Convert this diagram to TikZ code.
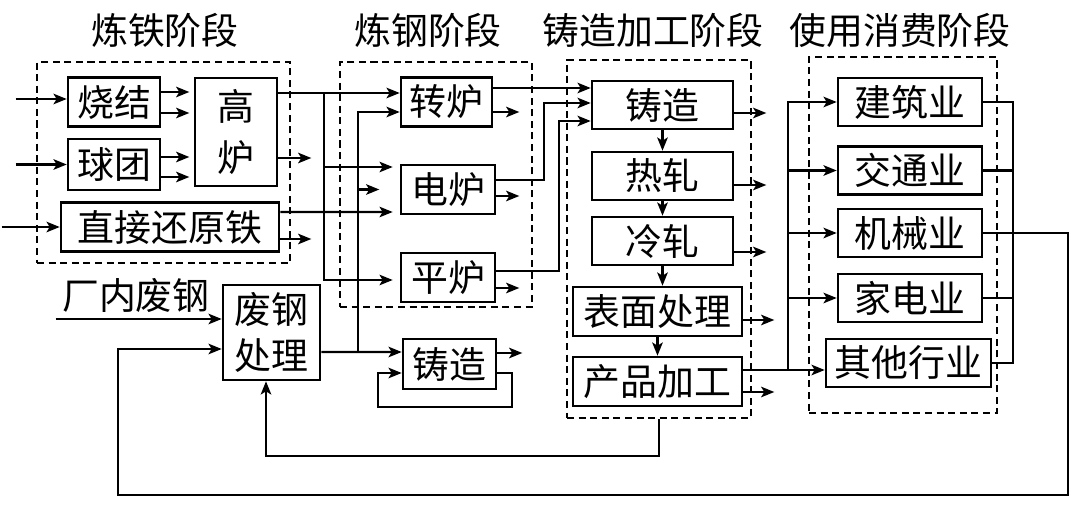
\documentclass[tikz,border=0pt]{standalone}
\usepackage{fontspec}
\setmainfont{Noto Sans CJK SC}
\usetikzlibrary{arrows.meta,calc}
\begin{document}
\begin{tikzpicture}
  [
    x=0.02cm, y=-0.02cm,
    font=\fontsize{21}{26}\selectfont,
    box/.style={rectangle,draw,line width=1.5pt,inner sep=0pt,minimum height=0.98cm},
    stage/.style={rectangle,draw,line width=1.2pt,dash pattern=on 4pt off 2.6pt,inner sep=0pt},
    flow/.style={line width=1.2pt},
    arr/.style={flow,-{Stealth[length=7.5pt,width=6pt,inset=1.8pt]}},
  ]
  \useasboundingbox (0,0) rectangle (1080,507);

  % stages
  \node[stage,minimum width=5.06cm,minimum height=4.02cm] (ironbox)  at (163.5,162.5) {};
  \node[stage,minimum width=3.84cm,minimum height=4.9cm]  (steelbox) at (436,184.5)   {};
  \node[stage,minimum width=3.68cm,minimum height=7.16cm] (procbox)  at (659,239)     {};
  \node[stage,minimum width=3.76cm,minimum height=7.12cm] (usebox)   at (903,235)     {};
  \node (tiron)  at (165,30) {炼铁阶段};
  \node (tsteel) at (428,30) {炼钢阶段};
  \node (tproc)  at (653,30) {铸造加工阶段};
  \node (tuse)   at (900,30) {使用消费阶段};
  \node (tscrap) at (136,296) {厂内废钢};

  % boxes
  \node[box,minimum width=1.84cm] (sinter) at (114,102)   {烧结};
  \node[box,minimum width=1.84cm,minimum height=1.02cm] (pellet) at (114,164.5) {球团};
  \node[box,minimum width=1.64cm,minimum height=2.16cm,align=center,
        font=\fontsize{21}{29.5}\selectfont] (bf) at (236,132) {高\\炉};
  \node[box,minimum width=4.36cm] (dri)    at (170,227)   {直接还原铁};
  \node[box,minimum width=1.82cm] (bof)    at (446.5,102) {转炉};
  \node[box,minimum width=1.88cm] (eaf)    at (448,189.5) {电炉};
  \node[box,minimum width=1.88cm] (ohf)    at (448,277.5) {平炉};
  \node[box,minimum width=1.94cm,minimum height=1.9cm,align=center,
        font=\fontsize{21}{26.5}\selectfont] (scrap) at (271.5,332.5) {废钢\\处理};
  \node[box,minimum width=1.86cm,minimum height=1cm] (cast2) at (449.5,364) {铸造};
  \node[box,minimum width=2.82cm,minimum height=0.96cm] (cast) at (662.5,105) {铸造};
  \node[box,minimum width=2.82cm,minimum height=0.96cm] (hot)  at (662.5,176) {热轧};
  \node[box,minimum width=2.82cm,minimum height=0.96cm] (cold) at (662.5,241) {冷轧};
  \node[box,minimum width=3.38cm] (surf) at (657.5,311.5) {表面处理};
  \node[box,minimum width=3.38cm] (prod) at (657.5,381.5) {产品加工};
  \node[box,minimum width=2.88cm,minimum height=0.96cm] (build) at (910,102)   {建筑业};
  \node[box,minimum width=2.88cm,minimum height=0.96cm] (trans) at (910,170.5) {交通业};
  \node[box,minimum width=2.88cm,minimum height=0.96cm] (mach)  at (910,233)   {机械业};
  \node[box,minimum width=2.88cm,minimum height=0.96cm] (appl)  at (910,298)   {家电业};
  \node[box,minimum width=3.3cm,minimum height=0.96cm]  (other) at (908.5,363) {其他行业};

  % inputs and short outputs
  \draw[arr] ($(sinter.west)+(-51,-3)$) -- ($(sinter.west)+(0,-3)$);
  \draw[arr] ($(pellet.west)+(-51,0)$) -- (pellet.west);
  \draw[arr] ($(dri.west)+(-58,0)$) -- (dri.west);
  \foreach \n/\dy/\len in {sinter/-10/28, sinter/11/28, pellet/-7.5/28, pellet/12.5/28,
      bf/26/33, dri/12/31, bof/10/26, eaf/6.5/23, ohf/10.5/23, cast2/-11/25,
      cast/8/32, hot/9/32, cold/11/32, surf/8.5/31, prod/10.5/31}
    \draw[arr] ($(\n.east)+(0,\dy)$) -- ++(\len,0);

  % iron to steel
  \coordinate (jiron) at ($(bf.east)+(46,-39)$);
  \draw[arr] ($(bf.east)+(0,-39)$) -- ($(bof.west)+(0,-9)$);
  \draw[arr,shorten >=4pt] (jiron) |- ($(eaf.west)+(0,-22.5)$);
  \draw[arr,shorten >=4pt] (jiron) |- ($(ohf.west)+(0,2.5)$);
  \draw[arr,shorten >=4pt] ($(dri.east)+(0,-15)$) -- ($(eaf.west)+(0,22.5)$);

  % scrap
  \coordinate (jscrap) at ($(scrap.east)+(37,19.5)$);
  \draw[arr] ($(scrap.west)+(-166,-13.5)$) -- ($(scrap.west)+(0,-13.5)$);
  \draw[arr] ($(scrap.east)+(0,19.5)$) -- ($(cast2.west)+(0,-12)$);
  \draw[arr] (jscrap) |- ($(bof.west)+(0,10)$);
  \draw[arr] (jscrap |- eaf.west) -- ++(21,0);
  \draw[arr] ($(cast2.east)+(0,9)$) -- ++(15,0) -- ++(0,34) -- ++(-134,0) -- ++(0,-34)
    -- ($(cast2.west)+(0,9)$);

  % steel to casting
  \draw[arr] ($(bof.east)+(0,-14)$) -- ($(cast.west)+(0,-17)$);
  \draw[arr] ($(eaf.east)+(0,-9.5)$) -- ++(48,0) |- ($(cast.west)+(0,-2)$);
  \draw[arr] ($(ohf.east)+(0,-6.5)$) -- ++(63,0) |- ($(cast.west)+(0,16)$);
  \foreach \a/\b in {cast/hot,hot/cold,cold/surf,surf/prod}
    \draw[arr] (\a.south) -- (\a.south |- \b.north);

  % products to users
  \coordinate (juse) at ($(prod.east)+(45,-11.5)$);
  \draw[arr] ($(prod.east)+(0,-11.5)$) -- ($(other.west)+(0,7)$);
  \foreach \n in {build,trans,mach,appl}
    \draw[arr] (juse) |- (\n.west);

  % back to scrap
  \coordinate (jback) at ($(build.east)+(30,0)$);
  \draw[flow] (build.east) -- (jback) |- (other.east);
  \draw[flow] (trans.east) -- (jback |- trans.east);
  \draw[flow] (appl.east) -- (jback |- appl.east);
  \draw[arr] (mach.east) -- ++(85,0) -- ++(0,262) -| ($(scrap.west)+(-104,16.5)$)
    -- ($(scrap.west)+(0,16.5)$);
  \draw[arr] (procbox.south) -- ++(0,37) -| ($(scrap.south)+(-5.5,0)$);
\end{tikzpicture}
\end{document}
